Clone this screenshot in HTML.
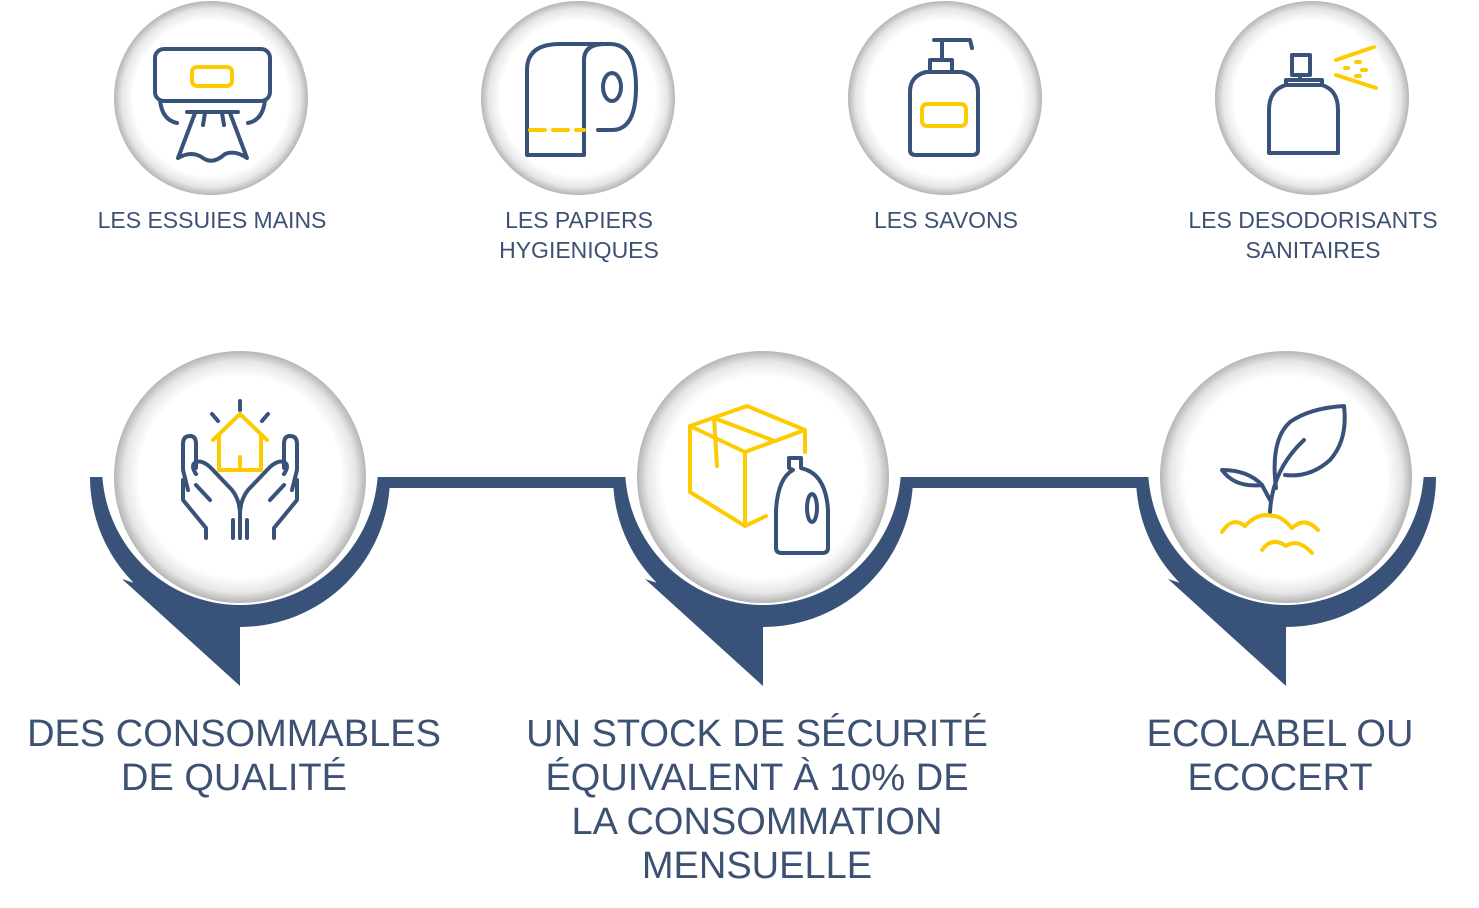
<!DOCTYPE html>
<html><head><meta charset="utf-8"><style>
html,body{margin:0;padding:0;background:#fff;}
svg{display:block}
text{font-family:"Liberation Sans",sans-serif;fill:#3d5173;}
</style></head><body>
<svg width="1479" height="908" viewBox="0 0 1479 908" xmlns="http://www.w3.org/2000/svg">
<defs>
<radialGradient id="g" cx="0.5" cy="0.5" r="0.5">
<stop offset="0" stop-color="#fff"/><stop offset="0.8" stop-color="#fff"/>
<stop offset="0.92" stop-color="#e6e6e6"/><stop offset="1" stop-color="#b5b5b5"/>
</radialGradient>
<g id="pin">
<path d="M-150,0 A150,150 0 0 0 150,0 Z" fill="#38527a"/>
<polygon points="-118,102 0,209 0,140" fill="#38527a"/>
<circle cx="0" cy="-10" r="138" fill="#fff"/>
<circle cx="0" cy="0" r="126" fill="url(#g)"/>
</g>
</defs>
<rect x="385" y="477" width="235" height="11" fill="#38527a"/>
<rect x="908" y="477" width="235" height="11" fill="#38527a"/>
<use href="#pin" x="240" y="477"/>
<use href="#pin" x="763" y="477"/>
<use href="#pin" x="1286" y="477"/>
<circle cx="211" cy="98" r="97" fill="url(#g)"/>
<circle cx="578" cy="98" r="97" fill="url(#g)"/>
<circle cx="945" cy="98" r="97" fill="url(#g)"/>
<circle cx="1312" cy="98" r="97" fill="url(#g)"/>
<g fill="none" stroke="#38527a" stroke-width="4" stroke-linecap="round" stroke-linejoin="round">
<rect x="155" y="49" width="115" height="52" rx="9"/>
<path d="M160,100 Q162,120 177,123 M265,100 Q263,120 248,123 M187,112 L238,112 M195,113 L178,158 Q192,150 203,158 Q213,165 225,154 Q235,150 247,158 L230,113 M205,113 L203,125 M222,113 L224,125"/>
<path d="M527,155 L527,70 Q527,44 560,44 L610,44 Q636,44 636,87 Q636,130 612,130 L598,130 M584,60 Q584,44 605,44 M584,60 L584,155 L527,155"/>
<ellipse cx="612" cy="87" rx="9" ry="14"/>
<path d="M940,40 L970,40 L972,48 M942,40 L942,60 M930,60 L952,60 L952,72 M926,72 L962,72 Q978,76 978,92 L978,150 Q978,155 972,155 L916,155 Q910,155 910,150 L910,92 Q910,76 926,72 M930,60 L930,72 M934,40 L950,40"/>
<path d="M1292,55 L1310,55 L1310,75 L1292,75 Z M1300,75 L1300,80 M1286,80 L1322,80 L1322,85 Q1338,90 1338,110 L1338,153 L1269,153 L1269,110 Q1269,90 1286,85 Z M1286,85 L1322,85"/>
<path d="M188,490 L183,470 L183,444 Q183,436 190,436 Q196,436 196,444 L196,468 M196,474 Q190,465 196,462 Q202,460 210,467 L232,490 Q240,500 240,515 L240,538 M233,538 L233,520 M210,500 L196,485"/>
<path d="M292,490 L297,470 L297,444 Q297,436 290,436 Q284,436 284,444 L284,468 M284,474 Q290,465 284,462 Q278,460 270,467 L248,490 Q240,500 240,515 L240,538 M247,538 L247,520 M270,500 L284,485"/>
<path d="M183,480 L183,500 L206,528 L206,538 M297,480 L297,500 L274,528 L274,538"/>
<path d="M240,401 L240,410 M212,414 L218,421 M268,414 L262,421"/>
<path d="M789,458 L801,458 L801,468 L807,470 Q826,478 828,510 L828,548 Q828,553 822,553 L782,553 Q776,553 776,548 L776,510 Q778,478 793,470 L789,468 Z"/>
<ellipse cx="812" cy="508" rx="5" ry="14"/>
<path d="M1270,512 Q1272,470 1304,440 M1276,488 Q1270,440 1290,422 Q1310,408 1344,406 Q1348,440 1330,460 Q1310,478 1285,475 M1270,500 L1262,485 Q1248,470 1222,470 Q1235,488 1262,485"/>
</g>
<g fill="none" stroke="#fccc00" stroke-width="4" stroke-linecap="round" stroke-linejoin="round">
<rect x="192" y="67" width="40" height="19" rx="5"/>
<path d="M530,130 L545,130 M553,130 L568,130 M576,130 L584,130"/>
<rect x="922" y="104" width="44" height="22" rx="5"/>
<path d="M1336,60 L1374,47 M1336,75 L1376,88 M1345,68 L1348,68 M1356,62 L1360,62 M1362,70 L1366,70 M1356,76 L1360,76"/>
<path d="M213,440 L240,414 L267,440 M219,436 L219,470 L261,470 L261,436 M240,470 L240,457"/>
<path d="M690,426 L747,406 L805,430 L805,452 M690,426 L690,492 L745,526 L766,516 M690,426 L745,452 L805,430 M745,452 L745,526 M714,418 L772,440 M714,418 L717,466"/>
<path d="M1222,532 Q1232,516 1245,526 Q1258,512 1272,516 Q1280,515 1292,528 Q1305,516 1318,530 M1262,550 Q1272,536 1286,546 Q1298,538 1312,553"/>
</g>
<g font-size="23" text-anchor="middle">
<text x="212" y="228">LES ESSUIES MAINS</text>
<text x="579" y="228">LES PAPIERS</text>
<text x="579" y="258">HYGIENIQUES</text>
<text x="946" y="228">LES SAVONS</text>
<text x="1313" y="228">LES DESODORISANTS</text>
<text x="1313" y="258">SANITAIRES</text>
</g>
<g font-size="38" text-anchor="middle">
<text x="234" y="746">DES CONSOMMABLES</text>
<text x="234" y="790">DE QUALITÉ</text>
<text x="757" y="746">UN STOCK DE SÉCURITÉ</text>
<text x="757" y="790">ÉQUIVALENT À 10% DE</text>
<text x="757" y="834">LA CONSOMMATION</text>
<text x="757" y="878">MENSUELLE</text>
<text x="1280" y="746">ECOLABEL OU</text>
<text x="1280" y="790">ECOCERT</text>
</g>
</svg>
</body></html>
